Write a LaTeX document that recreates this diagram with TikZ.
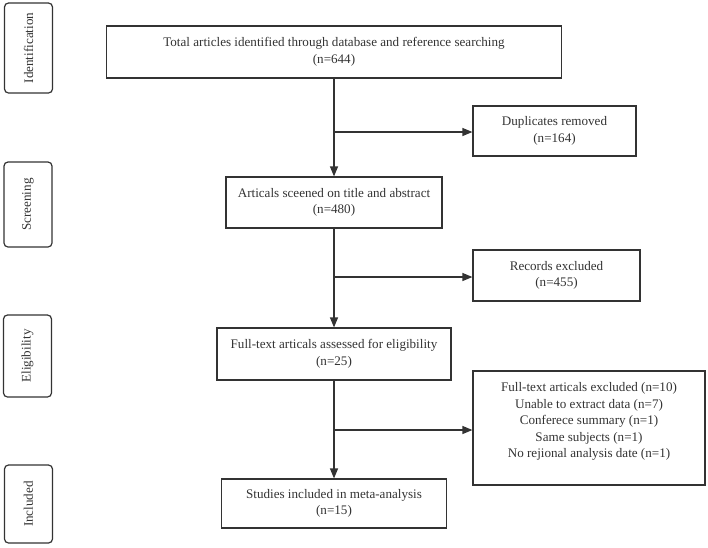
\documentclass[tikz,border=0pt]{standalone}
\usepackage{fontspec}
\setmainfont{Liberation Serif}
\usetikzlibrary{arrows.meta,positioning}
\definecolor{ink}{HTML}{333333}

\begin{document}
\begin{tikzpicture}[x=1pt,y=-1pt]
  \tikzset{
    >={Triangle[length=10pt,width=8pt]},
    every node/.style={font=\fontsize{13.1}{16.5}\selectfont,text=ink},
    box/.style={draw=ink,line width=1.2pt,align=center,inner sep=2pt},
    stage/.style={draw=ink,line width=1.2pt,rounded corners=4pt,rotate=90,minimum height=48pt},
    edge/.style={->,draw=ink,line width=1.2pt},
  }
  \useasboundingbox (0,0) rectangle (708,547);

  % stages on the left
  \node [stage,minimum width=90pt] (ident)  at (28.5,48)  {Identification};
  \node [stage,minimum width=85pt] (screen) at (28,204.5) {Screening};
  \node [stage,minimum width=82pt] (elig)   at (27.5,356) {Eligibility};
  \node [stage,minimum width=78pt] (incl)   at (28.5,504) {Included};

  % main column
  \node [box,minimum width=455pt,minimum height=52pt] (total) at (334,52)
    {Total articles identified through database and reference searching\\(n=644)};
  \node [box,minimum width=216pt,minimum height=51pt] (screened) at (334,202.5)
    {Articals sceened on title and abstract\\(n=480)};
  \node [box,minimum width=234pt,minimum height=52pt] (fulltext) at (334,354)
    {Full-text articals assessed for eligibility\\(n=25)};
  \node [box,minimum width=225pt,minimum height=49pt] (studies) at (334,503.5)
    {Studies included in meta-analysis\\(n=15)};

  % exclusions
  \node [box,minimum width=163pt,minimum height=50pt] (dup) at (554.5,131)
    {Duplicates removed\\(n=164)};
  \node [box,minimum width=167pt,minimum height=51pt] (recex) at (556.5,275.5)
    {Records excluded\\(n=455)};
  \node [box,minimum width=232pt,minimum height=114pt] (ftex) at (589,428) {};
  \node [align=center,inner sep=0pt,below=12pt of ftex.north] (ftextxt)
    {Full-text articals excluded (n=10)\\Unable to extract data (n=7)\\Conferece summary (n=1)\\Same subjects (n=1)\\No rejional analysis date (n=1)};

  \coordinate (b1) at (334,132);
  \coordinate (b2) at (334,277);
  \coordinate (b3) at (334,430);

  \draw[edge] (total) -- (screened);
  \draw[edge] (screened) -- (fulltext);
  \draw[edge] (fulltext) -- (studies);
  \draw[edge] (b1) -- (b1 -| dup.west);
  \draw[edge] (b2) -- (b2 -| recex.west);
  \draw[edge] (b3) -- (b3 -| ftex.west);
\end{tikzpicture}
\end{document}
